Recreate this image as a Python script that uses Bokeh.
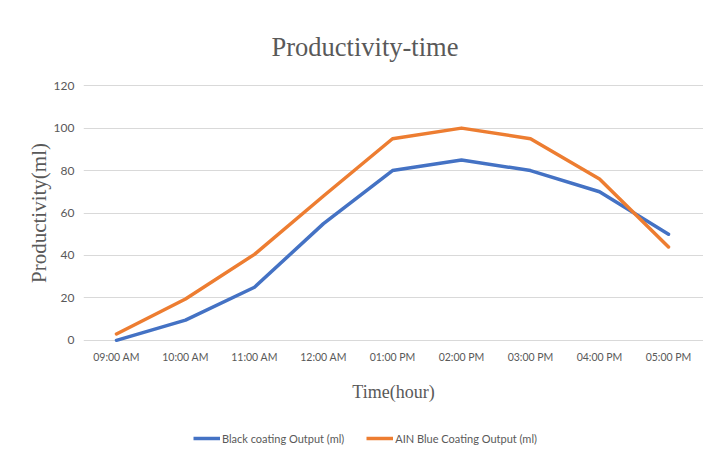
from bokeh.plotting import figure
from bokeh.models import Range1d, Legend, LegendItem, FixedTicker
from bokeh.layouts import column
from bokeh.embed import file_html
from bokeh.resources import INLINE

times = ["09:00 AM", "10:00 AM", "11:00 AM", "12:00 AM", "01:00 PM",
         "02:00 PM", "03:00 PM", "04:00 PM", "05:00 PM"]
black_coating = [0, 9.5, 25, 55, 80, 85, 80, 70, 50]
ain_blue_coating = [3, 19.5, 40.5, 68, 95, 100, 95, 76, 44]
y_ticks = [0, 20, 40, 60, 80, 100, 120]
series_names = ["Black coating Output (ml)", "AIN Blue Coating Output (ml)"]
series_colors = ["#4472C4", "#ED7D31"]

xs = list(range(len(times)))
series_values = [black_coating, ain_blue_coating]

SANS = "Lato"
SERIF = "Liberation Serif"
GRAY = "#595959"

p = figure(width=703, height=410, output_backend="svg", toolbar_location=None,
           x_range=Range1d(-0.478, 8.507), y_range=Range1d(-1.5, 121.5),
           min_border_left=83, min_border_right=0, min_border_top=82,
           min_border_bottom=67)

p.title.text = "Productivity-time"
p.title.text_font = SERIF
p.title.text_font_size = "26.5px"
p.title.text_font_style = "normal"
p.title.text_color = GRAY
p.title.align = "left"
p.title.offset = 188
p.title.standoff = 42

for vals, col in zip(series_values, series_colors):
    p.line(xs, vals, line_color=col, line_width=3.5,
           line_join="round", line_cap="round")

p.xaxis.ticker = FixedTicker(ticks=xs)
p.xaxis.major_label_overrides = {i: t for i, t in enumerate(times)}
p.yaxis.ticker = FixedTicker(ticks=y_ticks)

for ax in (p.xaxis[0], p.yaxis[0]):
    ax.axis_line_color = None
    ax.major_tick_line_color = None
    ax.minor_tick_line_color = None
    ax.major_tick_out = 0
    ax.major_tick_in = 0
    ax.minor_tick_out = 0
    ax.major_label_text_font = SANS
    ax.major_label_text_font_size = "10.5px"
    ax.major_label_text_color = GRAY
    ax.axis_label_text_font = SERIF
    ax.axis_label_text_font_style = "normal"
    ax.axis_label_text_color = GRAY

p.yaxis.major_label_text_font_size = "12px"
p.xaxis.axis_label = "Time(hour)"
p.xaxis.axis_label_text_font_size = "18px"
p.xaxis.major_label_standoff = 7
p.xaxis.axis_label_standoff = 16
p.yaxis.axis_label = "Productivity(ml)"
p.yaxis.axis_label_text_font_size = "21px"
p.yaxis.major_label_standoff = 9
p.yaxis.axis_label_standoff = 0

p.xgrid.grid_line_color = None
p.ygrid.grid_line_color = "#d9d9d9"
p.ygrid.grid_line_width = 1
p.outline_line_color = None

# legend strip below the chart (its lines lie outside its visible range;
# they only supply the legend swatches)
pl = figure(width=703, height=54, output_backend="svg", toolbar_location=None,
            x_range=Range1d(0, 1), y_range=Range1d(1000, 1001),
            x_axis_location=None, y_axis_location=None,
            min_border=0)
pl.grid.visible = False
pl.outline_line_color = None
items = []
for name, vals, col in zip(series_names, series_values, series_colors):
    r = pl.line(xs, vals, line_color=col, line_width=3.5)
    items.append(LegendItem(label=name, renderers=[r]))

legend = Legend(items=items, orientation="horizontal", location=(110, 19))
legend.label_text_font = SANS
legend.label_text_font_size = "11px"
legend.label_text_color = GRAY
legend.glyph_width = 27
legend.glyph_height = 14
legend.label_standoff = 2
legend.label_height = 14
legend.spacing = 22
legend.padding = 0
legend.margin = 0
legend.border_line_color = None
legend.background_fill_alpha = 0
pl.add_layout(legend, "center")

layout = column(p, pl, spacing=0)
open("out.html", "w").write(file_html(layout, INLINE))
